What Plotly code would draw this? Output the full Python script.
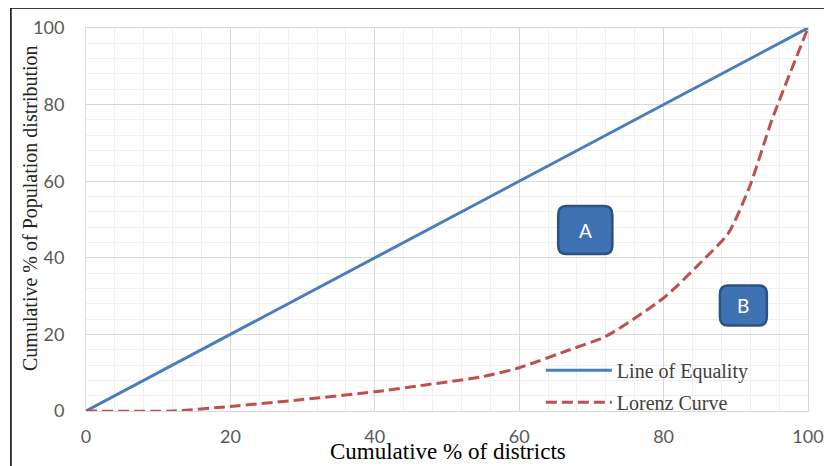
import plotly.graph_objects as go

# Data
equality_x = [0, 100]
equality_y = [0, 100]
lorenz_x = [0, 12, 20, 30, 40, 47, 55, 60, 67, 72, 80, 85, 89, 92, 95, 100]
lorenz_y = [0, 0, 1.2, 3, 5, 6.8, 9, 11.3, 16, 19.5, 29.5, 38.5, 46.5, 59, 76, 100]
tick_vals = [0, 20, 40, 60, 80, 100]

fig = go.Figure()
fig.add_trace(go.Scatter(x=equality_x, y=equality_y, mode="lines", name="Line of Equality",
                         legendgroup="a", line=dict(color="#4a7ebb", width=3)))
fig.add_trace(go.Scatter(x=lorenz_x, y=lorenz_y, mode="lines", name="Lorenz Curve",
                         legendgroup="b",
                         line=dict(color="#c0504d", width=3, dash="11px,5px", shape="spline", smoothing=0.6)))

def rounded_rect(x0, y0, x1, y1, rx, ry):
    return (f"M {x0+rx},{y0} L {x1-rx},{y0} Q {x1},{y0} {x1},{y0+ry} "
            f"L {x1},{y1-ry} Q {x1},{y1} {x1-rx},{y1} L {x0+rx},{y1} "
            f"Q {x0},{y1} {x0},{y1-ry} L {x0},{y0+ry} Q {x0},{y0} {x0+rx},{y0} Z")

boxes = [("A", 65.4, 41, 72.9, 53.5), ("B", 87.8, 22.3, 94.3, 32.8)]
for label, x0, y0, x1, y1 in boxes:
    fig.add_shape(type="path", path=rounded_rect(x0, y0, x1, y1, 1.1, 2.3),
                  xref="x", yref="y", fillcolor="#3f72b2",
                  line=dict(color="#2c5282", width=2.5), layer="above")
    fig.add_annotation(x=(x0 + x1) / 2, y=(y0 + y1) / 2, text=label, showarrow=False,
                       font=dict(family="Lato, Arial", size=19, color="white"))

# axis titles as annotations (placed like the reference)
fig.add_annotation(xref="paper", yref="paper", x=0.501, y=-0.105, yanchor="middle",
                   text="Cumulative % of districts", showarrow=False,
                   font=dict(family="Liberation Serif, Times New Roman", size=23, color="black"))
fig.add_annotation(xref="paper", yref="paper", x=-0.0776, y=0.53, xanchor="center", yanchor="middle",
                   textangle=-90, text="Cumulative % of Population distribution", showarrow=False,
                   font=dict(family="Liberation Serif, Times New Roman", size=20, color="#222"))

# outer frame
fig.add_shape(type="rect", xref="paper", yref="paper", x0=-0.104, y0=-0.2, x1=1.1, y1=1.052,
              line=dict(color="black", width=1.5), fillcolor="rgba(0,0,0,0)", layer="below")

axis_common = dict(range=[0, 100], tickvals=tick_vals, showgrid=True, gridcolor="#d9d9d9",
                   gridwidth=1, zeroline=False, showline=True, linecolor="#d9d9d9", mirror=True,
                   ticks="", automargin=False,
                   tickfont=dict(family="Lato, Arial", size=18, color="#595959"),
                   minor=dict(dtick=4, showgrid=True, gridcolor="#f0f0f0", gridwidth=1))

fig.update_layout(
    width=824, height=458,
    margin=dict(l=78, r=24, t=20, b=55),
    paper_bgcolor="white", plot_bgcolor="white",
    xaxis=dict(**axis_common, ticklabelstandoff=9),
    yaxis=dict(**axis_common, ticklabelstandoff=17),
    showlegend=True,
    legend=dict(x=0.63, y=-0.028, xanchor="left", yanchor="bottom", bgcolor="rgba(0,0,0,0)",
                font=dict(family="Liberation Serif, Times New Roman", size=20, color="#404040"),
                itemwidth=66, tracegroupgap=3),
)

fig.write_html("out.html")
